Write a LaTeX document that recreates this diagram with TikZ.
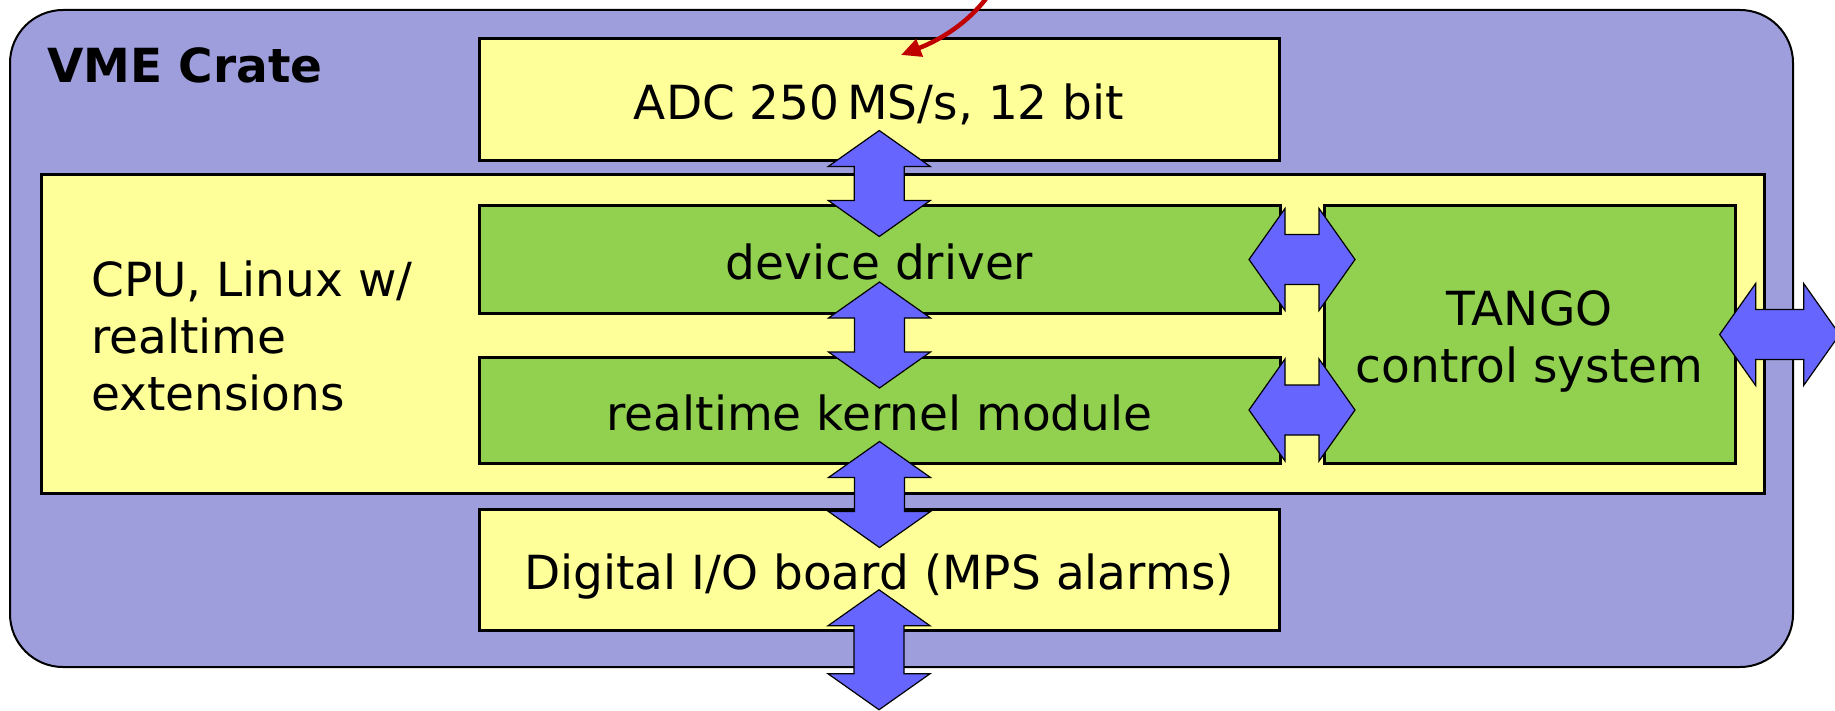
\documentclass[tikz,border=0pt]{standalone}
\usepackage{fontspec}
\setmainfont{DejaVu Sans}
\usepackage{tikz}
\usetikzlibrary{positioning,calc,arrows.meta}

\definecolor{cratefill}{HTML}{9E9EDD}
\definecolor{boardfill}{HTML}{FFFF99}
\definecolor{softfill}{HTML}{92D050}
\definecolor{busfill}{HTML}{6666FF}
\definecolor{feedred}{HTML}{C00000}

\tikzset{
    board/.style={draw, line width=3pt, fill=boardfill, inner sep=0pt, text height=40pt, text depth=0pt},
    soft/.style={draw, line width=3pt, fill=softfill, inner sep=0pt, text height=40pt, text depth=0pt},
    pics/bus/.style={code={
        \draw[line width=1.2pt, fill=busfill]
            (0,-#1) -- (51,36-#1) -- (25,36-#1) -- (25,#1-36) -- (51,#1-36) -- (0,#1)
            -- (-51,#1-36) -- (-25,#1-36) -- (-25,36-#1) -- (-51,36-#1) -- cycle;
    }},
    pics/bus/.default=53
}

\begin{document}
\begin{tikzpicture}[x=1pt, y=-1pt, font=\fontsize{47}{57}\selectfont]
        \useasboundingbox (0,0) rectangle (1835,711);

        % crate
        \node[draw, line width=2pt, fill=cratefill, rounded corners=53pt,
              minimum width=1783pt, minimum height=657pt] (crate) at (901.5,338.5) {};
        \node[anchor=base west, inner sep=0pt, font=\fontsize{47}{57}\selectfont\bfseries]
              (cratename) at (47,83) {VME Crate};

        % boards
        \node[board, text height=, text depth=, minimum width=1723pt, minimum height=318pt] (cpu) at (902.5,334) {};
        \node[anchor=west, inner sep=0pt, align=left] (cpuname) at (91,336)
              {CPU, Linux w/\\realtime\\extensions};
        \node[board, minimum width=800pt, minimum height=122pt] (adc) at (879,100) {ADC 250\,MS/s, 12 bit};
        \node[board, minimum width=800pt, minimum height=121pt] (dio) at (879,569.5) {Digital I/O board (MPS alarms)};

        % software
        \node[soft, minimum width=801pt, minimum height=107pt] (driver) at (879.5,259.5) {device driver};
        \node[soft, minimum width=801pt, minimum height=106pt] (kernel) at (879.5,410) {realtime kernel module};
        \node[soft, text height=, text depth=, minimum width=411pt, minimum height=257pt] (tango) at (1529.5,334.5) {};
        \node[align=center, inner sep=0pt] (tangoname) at ([yshift=-7pt]tango.center)
              {TANGO\\control system};

        % buses
        \pic at ($(adc.south)!0.5!(driver.north)$) {bus};
        \pic at ($(driver.south)!0.5!(kernel.north)$) {bus};
        \pic at (kernel.south |- cpu.south) {bus};
        \pic at ($(dio.south)!0.5!(dio.south |- crate.south)$) {bus=60};
        \pic[rotate=90] at ($(driver.east)!0.5!(driver.east -| tango.west)$) {bus};
        \pic[rotate=90] at ($(kernel.east)!0.5!(kernel.east -| tango.west)$) {bus};
        \pic[rotate=90] at ($(tango.east)!0.75!(tango.east -| crate.east)$) {bus=60};

        % signal input
        \coordinate (feed) at (995,-15);
        \coordinate (adcin) at (901,55);
        \draw[feedred, line width=4.5pt, -{Triangle[length=20pt,width=18pt]}]
              (feed) .. controls (975,20) and (940,40) .. (adcin);
    \end{tikzpicture}
\end{document}
